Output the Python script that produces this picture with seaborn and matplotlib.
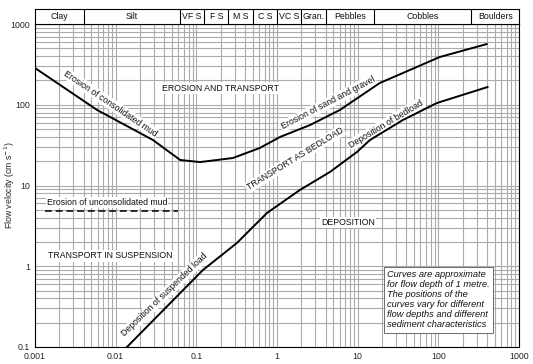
import matplotlib
matplotlib.use("Agg")
import matplotlib.pyplot as plt
import seaborn as sns
from matplotlib.ticker import LogLocator, FixedLocator, FixedFormatter, NullFormatter

sns.set_style("white")
plt.rcParams['font.family'] = ['Liberation Sans', 'DejaVu Sans']

# grain size classes (mm) shown in the header band
size_classes = ["Clay", "Silt", "VF S", "F S", "M S", "C S", "VC S", "Gran.",
                "Pebbles", "Cobbles", "Boulders"]
class_edges = [0.001, 0.004, 0.0625, 0.125, 0.25, 0.5, 1, 2, 4, 16, 256, 1000]

# erosion curve (grain size mm, velocity cm/s)
erosion_size = [0.001, 0.0059, 0.029, 0.063, 0.111, 0.284, 0.61, 1.09, 2.56,
                6.0, 18.8, 36.3, 104, 400]
erosion_vel = [285, 86, 36.6, 20.7, 19.5, 21.9, 29.1, 39.9, 56, 86, 186, 247,
               390, 565]

# deposition curve
deposition_size = [0.0138, 0.121, 0.318, 0.75, 1.92, 4.53, 9.8, 14.2, 36.3,
                   95.7, 410]
deposition_vel = [0.1, 0.9, 1.94, 4.56, 8.8, 14.7, 26, 36.6, 64.7, 105, 166]

# erosion of unconsolidated mud
unconsolidated_size = [0.00133, 0.059]
unconsolidated_vel = [4.9, 4.9]

x_ticks = [0.001, 0.01, 0.1, 1, 10, 100, 1000]
x_labels = ["0.001", "0.01", "0.1", "1", "10", "100", "1000"]
y_ticks = [0.1, 1, 10, 100, 1000]
y_labels = ["0.1", "1", "10", "100", "1000"]

W, H = 533, 364
fig = plt.figure(figsize=(W / 100, H / 100), dpi=100)
left, right, bottom, top = 35 / W, 519 / W, 17 / H, 340 / H
ax = fig.add_axes([left, bottom, right - left, top - bottom])
ax_top = fig.add_axes([left, top, right - left, 15 / H], sharex=ax)

ax.set_xscale("log")
ax.set_yscale("log")
ax.set_xlim(0.001, 1000)
ax.set_ylim(0.1, 1000)

ax.xaxis.set_minor_locator(LogLocator(base=10, subs=range(2, 10), numticks=20))
ax.yaxis.set_minor_locator(LogLocator(base=10, subs=range(2, 10), numticks=20))
ax.xaxis.set_minor_formatter(NullFormatter())
ax.yaxis.set_minor_formatter(NullFormatter())
ax.grid(True, which="both", color="#ababab", lw=0.8)
ax.set_axisbelow(True)

ax.xaxis.set_major_locator(FixedLocator(x_ticks))
ax.xaxis.set_major_formatter(FixedFormatter(x_labels))
ax.yaxis.set_major_locator(FixedLocator(y_ticks))
ax.yaxis.set_major_formatter(FixedFormatter(y_labels))
ax.tick_params(which="major", length=2, width=0.6, labelsize=6.3, pad=1.5)
ax.tick_params(which="minor", length=0)
for s in ax.spines.values():
    s.set_color("black")
    s.set_linewidth(0.8)

sns.lineplot(x=erosion_size, y=erosion_vel, ax=ax, color="black", lw=1.4,
             sort=False, zorder=4)
sns.lineplot(x=deposition_size, y=deposition_vel, ax=ax, color="black", lw=1.4,
             sort=False, zorder=4)
sns.lineplot(x=unconsolidated_size, y=unconsolidated_vel, ax=ax, color="black",
             lw=1.1, linestyle=(0, (4.5, 2.5)), zorder=4)

ax.set_ylabel("Flow velocity (cm s$^{-1}$)", fontsize=6.3)
ax.yaxis.set_label_coords(-0.038, 0.5)
ax.set_xlabel("")

txt = dict(fontsize=6.3, color="#111111", ha="center", va="center",
           rotation_mode="anchor", zorder=3)
bg = dict(facecolor="white", edgecolor="none", pad=0.8)
ax.text(0.2, 161, "EROSION AND TRANSPORT", bbox=bg, **txt)
ax.text(0.0086, 104, "Erosion of consolidated mud", rotation=-34, bbox=bg, **txt)
ax.text(4.3, 105, "Erosion of sand and gravel", rotation=27.5, bbox=bg, **txt)
ax.text(1.67, 21.3, "TRANSPORT AS BEDLOAD", rotation=31.5, bbox=bg, **txt)
ax.text(22.4, 58, "Deposition of bedload", rotation=31, bbox=bg, **txt)
ax.text(0.040, 0.44, "Deposition of suspended load", rotation=44, bbox=bg, **txt)
ax.text(7.6, 3.5, "DEPOSITION", bbox=bg, **txt)
ax.text(0.0085, 1.34, "TRANSPORT IN SUSPENSION", bbox=bg, **txt)
ax.text(0.0078, 6.1, "Erosion of unconsolidated mud", bbox=bg, **txt)

note = ("Curves are approximate\nfor flow depth of 1 metre.\nThe positions of the\n"
        "curves vary for different\nflow depths and different\nsediment characteristics")
ax.text(0.727, 0.238, note, transform=ax.transAxes, fontsize=6.7, style="italic",
        ha="left", va="top", linespacing=1.15, color="#111111", zorder=5,
        bbox=dict(facecolor="white", edgecolor="#555555", lw=0.6,
                  boxstyle="square,pad=0.35"))

# header band with grain size classes
ax_top.set_ylim(0, 1)
for e in class_edges[1:-1]:
    ax_top.axvline(e, color="black", lw=0.8)
for name, lo, hi in zip(size_classes, class_edges[:-1], class_edges[1:]):
    ax_top.text((lo * hi) ** 0.5, 0.5, name, ha="center", va="center", fontsize=6.3,
                color="#111111")
ax_top.tick_params(which="both", length=0, labelbottom=False, labelleft=False)
ax_top.grid(False)
for s in ax_top.spines.values():
    s.set_color("black")
    s.set_linewidth(0.8)

fig.savefig("out.png", dpi=100)
